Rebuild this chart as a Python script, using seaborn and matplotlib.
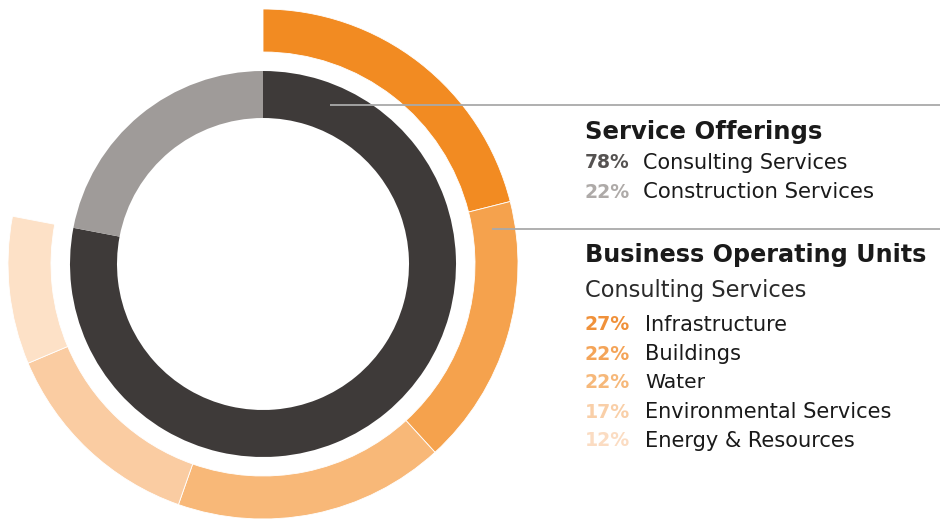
import matplotlib
matplotlib.use("Agg")
import matplotlib.pyplot as plt
import seaborn as sns

# ---- data ----
service_labels = ["Consulting Services", "Construction Services"]
service_values = [78, 22]
unit_labels = ["Infrastructure", "Buildings", "Water", "Environmental Services", "Energy & Resources"]
unit_values = [27, 22, 22, 17, 12]

inner_colors = ["#3e3a39", "#9f9b99"]
pct_colors_service = ["#555251", "#aeaaa8"]
outer_colors = ["#f28b22", "#f5a24d", "#f8b878", "#facca2", "#fde1c7"]
pct_colors_units = ["#f0913a", "#f4a458", "#f6b87a", "#f9cfa8", "#fbdcc2"]

sns.set_theme(style="white")
plt.rcParams["font.family"] = ["DejaVu Sans"]

W, H = 943, 521
fig = plt.figure(figsize=(W / 100, H / 100), dpi=100)
ax = fig.add_axes([0, 0, 1, 1])

cx, cy = 263, H - 264

# inner ring: service offerings
ax.pie(service_values, colors=inner_colors, radius=193, center=(cx, cy),
       startangle=90, counterclock=False, frame=True,
       wedgeprops=dict(width=47, linewidth=0))

# outer ring: business units, covering only the consulting share
consult_share = service_values[0] / 100.0
outer_vals = [v * consult_share for v in unit_values]
outer_vals_full = outer_vals + [100 - sum(outer_vals)]
wedges, _ = ax.pie(outer_vals_full, colors=outer_colors + ["white"], radius=255,
                   center=(cx, cy), startangle=90, counterclock=False, frame=True,
                   wedgeprops=dict(width=43, linewidth=0.6, edgecolor="white"))
wedges[-1].set_visible(False)

ax.set_xlim(0, W)
ax.set_ylim(0, H)
ax.set_aspect("equal")
ax.axis("off")

def Y(y):
    return H - y

# separator lines
ax.plot([330, 940], [Y(105), Y(105)], color="#a9a9a9", lw=1.3, solid_capstyle="butt")
ax.plot([492, 940], [Y(229), Y(229)], color="#a9a9a9", lw=1.3, solid_capstyle="butt")

fig.canvas.draw()
renderer = fig.canvas.get_renderer()

def fit_text(x, y, s, target_w, size, **kw):
    t = ax.text(x, Y(y), s, fontsize=size, va="center", ha="left", **kw)
    w = t.get_window_extent(renderer).width
    t.set_fontsize(size * target_w / w)
    return t

txt = "#1a1a1a"
fit_text(585, 132, "Service Offerings", 238, 16, fontweight="bold", color=txt)
pct_x, lab_x = 585, 643
ys = [163, 192]
ends = [847, 875]
for lab, val, c, y, e in zip(service_labels, service_values, pct_colors_service, ys, ends):
    fit_text(pct_x, y, f"{val}%", 45, 13, fontweight="bold", color=c)
    fit_text(lab_x, y, lab, e - lab_x, 13, color=txt)

fit_text(585, 255, "Business Operating Units", 342, 16, fontweight="bold", color=txt)
fit_text(585, 290, "Consulting Services", 223, 14, color="#2a2a2a")
ys = [325, 354, 383, 412, 441]
ends = [787, 741, 705, 892, 855]
for lab, val, c, y, e in zip(unit_labels, unit_values, pct_colors_units, ys, ends):
    fit_text(pct_x, y, f"{val}%", 45, 13, fontweight="bold", color=c)
    fit_text(645, y, lab, e - 645, 13, color=txt)

fig.savefig("out.png", dpi=100, facecolor="white")
